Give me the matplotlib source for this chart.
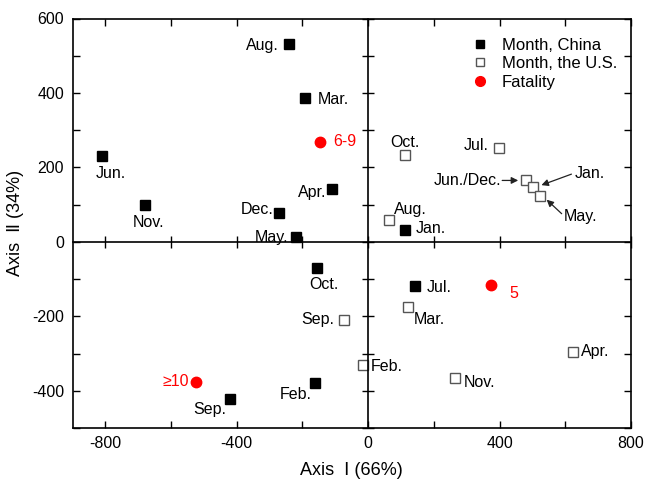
import matplotlib
matplotlib.use('Agg')
import matplotlib.pyplot as plt
from matplotlib.lines import Line2D
from matplotlib.ticker import MultipleLocator
from matplotlib.transforms import offset_copy

plt.rcParams['font.family'] = ['Liberation Sans', 'DejaVu Sans']
plt.rcParams['axes.unicode_minus'] = False

# data
china_months = ['Aug.', 'Mar.', 'Jun.', 'Nov.', 'Dec.', 'Apr.', 'May.', 'Jan.', 'Oct.', 'Jul.', 'Feb.', 'Sep.']
china_x = [-241, -193, -809, -678, -272, -111, -220, 111, -156, 144, -162, -420]
china_y = [532, 386, 230, 100, 78, 143, 14, 32, -70, -119, -378, -422]

us_months = ['Oct.', 'Jul.', 'Jun./Dec.', 'Jan.', 'May.', 'Aug.', 'Sep.', 'Feb.', 'Mar.', 'Nov.', 'Apr.']
us_x = [111, 399, 481, 503, 522, 63, -73, -17, 122, 263, 623]
us_y = [232, 251, 165, 147, 124, 59, -209, -332, -176, -367, -295]

fatal_labels = ['6-9', '\u226510', '5']
fatal_x = [-146, -524, 375]
fatal_y = [269, -376, -116]

# label placement (pixel offsets from the marker, horizontal alignment)
china_pos = [(-10, -2, 'right'), (13, -1, 'left'), (8, -17, 'center'), (3, -18, 'center'),
             (-5, 3, 'right'), (-5, -4, 'right'), (-8, -1, 'right'), (11, 1, 'left'),
             (7, -17, 'center'), (11, -1, 'left'), (-3, -12, 'right'), (-4, -11, 'right')]
us_pos = [(0, 13, 'center'), (-11, 3, 'right'), (-25, 0, 'right'), (41, 14, 'left'),
          (24, -21, 'left'), (5, 10, 'left'), (-10, 0, 'right'), (8, -1, 'left'),
          (5, -12, 'left'), (9, -4, 'left'), (8, 0, 'left')]
fatal_pos = [(13, 0, 'left'), (-7, 0, 'right'), (18, -8, 'left')]
# arrows: index in us lists, head offset, tail offset (pixels)
us_arrows = [(2, (-8, 0), (-24, 0)), (3, (8, 2), (38, 13)), (4, (7, -4), (22, -18))]

fig = plt.figure(figsize=(6.46, 4.88), dpi=100)
ax = fig.add_axes([72.5 / 646, 1 - 428 / 488, (631 - 72.5) / 646, (428 - 18.5) / 488])

ax.plot(china_x, china_y, 's', color='black', ms=6.5, zorder=3)
ax.plot(us_x, us_y, 's', mfc='white', mec='#555555', mew=1.0, ms=6.5, zorder=3)
ax.plot(fatal_x, fatal_y, 'o', color='#ff0000', ms=7.5, zorder=3)

fs = 11.5
for lab, x, y, (dx, dy, ha) in zip(china_months, china_x, china_y, china_pos):
    ax.annotate(lab, (x, y), xytext=(dx, dy), textcoords='offset pixels', ha=ha, va='center', fontsize=fs)
for lab, x, y, (dx, dy, ha) in zip(us_months, us_x, us_y, us_pos):
    ax.annotate(lab, (x, y), xytext=(dx, dy), textcoords='offset pixels', ha=ha, va='center', fontsize=fs)
for lab, x, y, (dx, dy, ha) in zip(fatal_labels, fatal_x, fatal_y, fatal_pos):
    ax.annotate(lab, (x, y), xytext=(dx, dy), textcoords='offset pixels', ha=ha, va='center',
                fontsize=fs, color='#ff0000')

for i, head, tail in us_arrows:
    th = offset_copy(ax.transData, fig=fig, x=head[0], y=head[1], units='dots')
    tt = offset_copy(ax.transData, fig=fig, x=tail[0], y=tail[1], units='dots')
    ax.annotate('', xy=(us_x[i], us_y[i]), xycoords=th, xytext=(us_x[i], us_y[i]), textcoords=tt,
                arrowprops=dict(arrowstyle='-|>', color='#222222', lw=0.9, mutation_scale=10,
                                shrinkA=0, shrinkB=0))

ax.xaxis.set_minor_locator(MultipleLocator(200))
ax.yaxis.set_minor_locator(MultipleLocator(100))
ax.set_xticks([-800, -400, 0, 400, 800])
ax.set_yticks([-400, -200, 0, 200, 400, 600])
ax.set_xlim(-900, 800)
ax.set_ylim(-500, 600)
ax.tick_params(which='both', direction='in', top=True, right=True, length=5, width=1.0,
               labelsize=11.5, pad=6)
for s in ax.spines.values():
    s.set_linewidth(1.2)

ax.set_xlabel('Axis  \u2160 (66%)', fontsize=13, labelpad=8)
ax.set_ylabel('Axis  \u2161 (34%)', fontsize=13, labelpad=6)

# zero lines with crossing ticks
ax2 = fig.add_axes(ax.get_position(), sharex=ax, sharey=ax)
ax2.patch.set_visible(False)
ax2.spines['top'].set_visible(False)
ax2.spines['right'].set_visible(False)
ax2.spines['left'].set_position(('data', 0))
ax2.spines['bottom'].set_position(('data', 0))
ax2.spines['left'].set_linewidth(1.2)
ax2.spines['bottom'].set_linewidth(1.2)
ax2.tick_params(which='both', direction='inout', length=8, width=1.0,
                labelleft=False, labelbottom=False)

handles = [Line2D([], [], ls='none', marker='s', color='black', ms=6),
           Line2D([], [], ls='none', marker='s', mfc='white', mec='#555555', ms=6),
           Line2D([], [], ls='none', marker='o', color='#ff0000', ms=7)]
ax.legend(handles, ['Month, China', 'Month, the U.S.', 'Fatality'], loc='upper left',
          bbox_to_anchor=(0.685, 0.99), frameon=False, fontsize=12,
          handletextpad=0.7, labelspacing=0.22, handlelength=1.2)

fig.savefig('out.png', dpi=100)
